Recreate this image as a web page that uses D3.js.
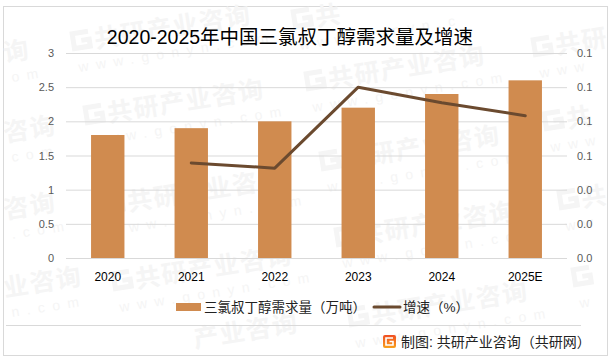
<!DOCTYPE html>
<html>
<head>
<meta charset="utf-8">
<script src="https://cdn.jsdelivr.net/npm/d3@7"></script>
<style>
html, body { margin: 0; padding: 0; background: #fff; }
svg { display: block; }
text { font-family: "Liberation Sans", "Noto Sans CJK SC", sans-serif; }
</style>
</head>
<body>
<svg width="613" height="359"></svg>
<script>
const years = ['2020', '2021', '2022', '2023', '2024', '2025E']
const demand = [1.8, 1.9, 2.0, 2.2, 2.4, 2.6]
const growth = [null, 0.0556, 0.0526, 0.1, 0.0909, 0.0833]
const leftTicks = [0, 0.5, 1, 1.5, 2, 2.5, 3]
const rightTicks = [0, 0.02, 0.04, 0.06, 0.08, 0.1, 0.12]

const titleText = '2020-2025年中国三氯叔丁醇需求量及增速'
const barName = '三氯叔丁醇需求量（万吨）'
const lineName = '增速（%）'
const sourceText = '制图: 共研产业咨询（共研网）'

// watermarks, the ones at the edges only show the part that fits
const markX = [72, 85, 306, 321, 105, 336, 113, 349, 293, 533, 544, 559, 573, 5, 5, 5, 5, 195]
const markY = [52, 126, 92, 172, 215, 248, 292, 328, 30, 58, 132, 211, 288, 62, 142, 219, 297, 348]
const markText = ['共研产业咨询', '共研产业咨询', '共研产业咨询', '共研产业咨询', '共研产业咨询', '共研产业咨询',
    '共研产业咨询', '共研产业咨询', '共', '共研', '共', '共', '', '询', '咨询', '咨询', '业咨询', '产业咨询']
const markUrl = ['www.gonyn.com', 'www.gonyn.com', 'www.gonyn.com', 'www.gonyn.com', 'www.gonyn.com', 'www.gonyn.com',
    'www.gonyn.com', 'www.gonyn.com', 'www.gonyn.c', 'www', 'www', 'ww', 'w', 'om', 'com', '.com', 'n.com', '']
const markLogo = [1, 1, 1, 1, 1, 1, 1, 1, 1, 1, 1, 1, 1, 0, 0, 0, 0, 0]

const svg = d3.select('svg')

svg.append('rect')
    .attr('x', 3.5).attr('y', 6.5)
    .attr('width', 604).attr('height', 349)
    .attr('fill', '#fff')
    .attr('stroke', '#d9d9d9')

function addWatermarks(){
    const g = svg.append('g').attr('id', 'watermarks')
    const markColor = '#f5f5f5'
    markX.forEach((x, i) => {
        const m = g.append('g').attr('transform', `translate(${x}, ${markY[i]}) rotate(-9)`)
        if (markLogo[i]) {
            m.append('path')
                .attr('d', 'M19 -18H3V-3H19V-10H11')
                .attr('fill', 'none')
                .attr('stroke', markColor)
                .attr('stroke-width', 5)
        }
        m.append('text')
            .attr('x', markLogo[i] ? 24 : 0).attr('y', 0)
            .attr('font-size', 25)
            .attr('font-weight', 700)
            .attr('letter-spacing', 1.5)
            .attr('fill', markColor)
            .text(markText[i])
        m.append('text')
            .attr('x', 4).attr('y', 21)
            .attr('font-size', 14)
            .attr('letter-spacing', 7.5)
            .attr('fill', markColor)
            .text(markUrl[i])
    })
}

function addAxes(xScale, yScale, rightScale){
    const yAxis = d3.axisLeft(yScale)
        .tickValues(leftTicks)
        .tickSize(0)
        .tickPadding(12)
        .tickFormat(d3.format('~g'))
    const rightAxis = d3.axisRight(rightScale)
        .tickValues(rightTicks)
        .tickSize(0)
        .tickPadding(10)
        .tickFormat(d3.format('.1f'))
    const xAxis = d3.axisBottom(xScale).tickSize(0).tickPadding(14)

    svg.append('g')
        .attr('id', 'grid')
        .selectAll('line')
        .data(leftTicks)
        .enter()
        .append('line')
        .attr('x1', xScale.range()[0])
        .attr('x2', xScale.range()[1])
        .attr('y1', d => yScale(d) + 0.5)
        .attr('y2', d => yScale(d) + 0.5)
        .attr('stroke', '#d9d9d9')

    svg.append('g').attr('id', 'yAxisG')
        .attr('transform', `translate(${xScale.range()[0]}, 0)`)
        .call(yAxis)
    svg.append('g').attr('id', 'rightAxisG')
        .attr('transform', `translate(${xScale.range()[1]}, 0)`)
        .call(rightAxis)
    svg.append('g').attr('id', 'xAxisG')
        .attr('transform', `translate(0, ${yScale(0)})`)
        .call(xAxis)

    svg.selectAll('path.domain').style('display', 'none')
    svg.selectAll('#yAxisG text, #rightAxisG text')
        .attr('font-size', 11)
        .attr('font-family', '"Liberation Sans", sans-serif')
        .attr('fill', '#595959')
    svg.selectAll('#xAxisG text')
        .attr('font-size', 12)
        .attr('font-family', '"Liberation Sans", sans-serif')
        .attr('fill', '#000')
}

function addBars(xScale, yScale){
    svg.append('g')
        .attr('id', 'bars')
        .selectAll('rect')
        .data(demand)
        .enter()
        .append('rect')
        .attr('x', (d, i) => xScale(years[i]))
        .attr('y', d => yScale(d))
        .attr('width', xScale.bandwidth())
        .attr('height', d => yScale(0) - yScale(d))
        .attr('fill', '#d08b4f')
}

function addLine(xScale, rightScale){
    const growthLine = d3.line()
        .defined(d => d !== null)
        .x((d, i) => xScale(years[i]) + xScale.bandwidth() / 2)
        .y(d => rightScale(d))

    svg.append('path')
        .attr('d', growthLine(growth))
        .attr('fill', 'none')
        .attr('stroke', '#6b4a2f')
        .attr('stroke-width', 3)
        .attr('stroke-linecap', 'round')
        .attr('stroke-linejoin', 'round')
}

function addLegend(){
    const g = svg.append('g').attr('id', 'legend')
    g.append('rect')
        .attr('x', 176).attr('y', 303)
        .attr('width', 25).attr('height', 8)
        .attr('fill', '#d08b4f')
    g.append('text')
        .attr('x', 204).attr('y', 312)
        .attr('font-size', 13.5)
        .attr('fill', '#222')
        .text(barName)
    g.append('line')
        .attr('x1', 374).attr('x2', 400)
        .attr('y1', 307).attr('y2', 307)
        .attr('stroke', '#6b4a2f')
        .attr('stroke-width', 3)
        .attr('stroke-linecap', 'round')
    g.append('text')
        .attr('x', 403).attr('y', 312)
        .attr('font-size', 13.5)
        .attr('fill', '#222')
        .text(lineName)
}

function addFooter(){
    svg.append('line')
        .attr('x1', 6).attr('x2', 581)
        .attr('y1', 325.5).attr('y2', 325.5)
        .attr('stroke', '#d9d9d9')

    const grad = svg.append('defs').append('linearGradient')
        .attr('id', 'logoFill')
        .attr('x1', 0).attr('y1', 0).attr('x2', 0).attr('y2', 1)
    grad.append('stop').attr('offset', 0).attr('stop-color', '#f04e23')
    grad.append('stop').attr('offset', 1).attr('stop-color', '#f9a11b')

    svg.append('rect')
        .attr('x', 383).attr('y', 335)
        .attr('width', 13).attr('height', 13)
        .attr('rx', 2)
        .attr('fill', 'url(#logoFill)')
    svg.append('path')
        .attr('d', 'M393 338H386V345H393V341.5H389.5')
        .attr('fill', 'none')
        .attr('stroke', '#fff')
        .attr('stroke-width', 1.6)

    svg.append('text')
        .attr('x', 401).attr('y', 347)
        .attr('font-size', 14)
        .attr('fill', '#222')
        .text(sourceText)
}

function drawChart(){
    const xScale = d3.scaleBand().domain(years).range([66, 567]).paddingInner(0.6).paddingOuter(0.3)
    const yScale = d3.scaleLinear().domain([0, 3]).range([258, 53])
    const rightScale = d3.scaleLinear().domain([0, 0.12]).range([258, 53])

    addWatermarks()
    addAxes(xScale, yScale, rightScale)
    addBars(xScale, yScale)
    addLine(xScale, rightScale)
    addLegend()
    addFooter()

    svg.append('text')
        .attr('x', 290).attr('y', 44)
        .attr('text-anchor', 'middle')
        .attr('font-size', 19.5)
        .attr('fill', '#000')
        .text(titleText)
}

drawChart()
</script>
</body>
</html>
